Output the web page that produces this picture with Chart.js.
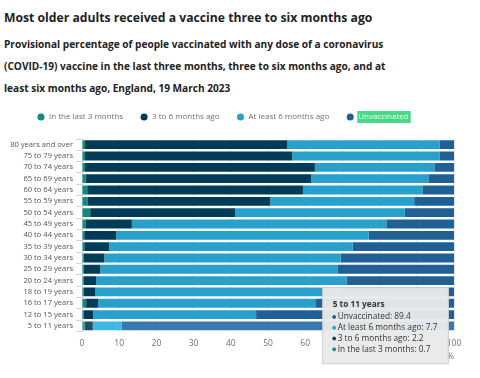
<!DOCTYPE html>
<html>
<head>
<meta charset="utf-8">
<script src="https://cdn.jsdelivr.net/npm/chart.js@4.4.1/dist/chart.umd.min.js"></script>
<style>
    body { margin: 0; width: 480px; height: 378px; overflow: hidden; background: #fff; font-family: "Open Sans", sans-serif; }
    #title { position: absolute; left: 4px; top: 8px; margin: 0; font-size: 12.2px; line-height: 20px; font-weight: bold; color: #222; }
    #subtitle { position: absolute; left: 4px; top: 33px; width: 470px; margin: 0; font-size: 10.1px; line-height: 22px; font-weight: bold; color: #222; }
    #chartBox { position: absolute; left: 0; top: 96px; width: 480px; height: 282px; }
</style>
</head>
<body>
<h1 id="title">Most older adults received a vaccine three to six months ago</h1>
<h2 id="subtitle">Provisional percentage of people vaccinated with any dose of a coronavirus<br>(COVID-19) vaccine in the last three months, three to six months ago, and at<br>least six months ago, England, 19 March 2023</h2>
<div id="chartBox"><canvas id="chart"></canvas></div>
<script>
// Age groups, top to bottom
const categories = [
    '80 years and over', '75 to 79 years', '70 to 74 years', '65 to 69 years',
    '60 to 64 years', '55 to 59 years', '50 to 54 years', '45 to 49 years',
    '40 to 44 years', '35 to 39 years', '30 to 34 years', '25 to 29 years',
    '20 to 24 years', '18 to 19 years', '16 to 17 years', '12 to 15 years',
    '5 to 11 years'
];

// Percentages per age group
const lastThreeMonths = [0.8, 0.8, 0.8, 1.0, 1.4, 1.6, 2.2, 0.9, 0.6, 0.6, 0.4, 0.4, 0.4, 0.5, 1.1, 0.5, 0.7];
const threeToSixMonths = [54.4, 55.7, 61.8, 60.6, 58.0, 49.0, 39.0, 12.5, 8.6, 6.7, 5.6, 4.5, 3.4, 3.0, 3.2, 2.5, 2.2];
const atLeastSixMonths = [41.0, 39.7, 32.1, 31.5, 32.1, 38.7, 45.6, 68.4, 67.9, 65.5, 63.5, 63.9, 67.3, 66.5, 58.4, 43.8, 7.7];
const unvaccinated = [3.8, 3.8, 5.3, 6.9, 8.5, 10.7, 13.2, 18.2, 22.9, 27.2, 30.5, 31.2, 28.9, 30.0, 37.3, 53.2, 89.4];

const xTicks = [0, 10, 20, 30, 40, 50, 60, 70, 80, 90, 100];

const FONT = '"Open Sans", sans-serif';
const LEGEND_SIZE = 8;

// Tooltip sits next to the hovered bar
Chart.Tooltip.positioners.hoverBox = function () {
    const c = this.chart;
    return {
        x: c.scales.x.getPixelForValue(64.7),
        y: c.chartArea.bottom - 44,
        xAlign: 'left',
        yAlign: 'top'
    };
};

// Legend spacing plus the green highlight behind "Unvaccinated"
const legendTweaks = {
    id: 'legendTweaks',
    beforeInit(chart) {
        const fit = chart.legend.fit;
        chart.legend.fit = function () {
            fit.bind(chart.legend)();
            this.height += 8;
        };
    },
    afterLayout(chart) {
        chart.legend.left = 20;
    },
    afterDraw(chart) {
        const box = chart.legend.legendHitBoxes[3];
        if (!box) return;
        const ctx = chart.ctx;
        const textX = box.left + LEGEND_SIZE * 1.5;
        ctx.save();
        ctx.font = LEGEND_SIZE + 'px ' + FONT;
        const tw = ctx.measureText('Unvaccinated').width;
        ctx.fillStyle = '#47d987';
        ctx.fillRect(textX - 1, box.top - 2, tw + 3, box.height + 4);
        ctx.fillStyle = '#f2fff6';
        ctx.textBaseline = 'middle';
        ctx.fillText('Unvaccinated', textX, box.top + box.height / 2);
        ctx.restore();
    }
};

const chart = new Chart(document.getElementById('chart'), {
    type: 'bar',
    data: {
        labels: categories,
        datasets: [
            { label: 'In the last 3 months', data: lastThreeMonths, backgroundColor: '#118c7b', hoverBackgroundColor: '#2c9c8c' },
            { label: '3 to 6 months ago', data: threeToSixMonths, backgroundColor: '#003c57', hoverBackgroundColor: '#1e4f68' },
            { label: 'At least 6 months ago', data: atLeastSixMonths, backgroundColor: '#27a0cc', hoverBackgroundColor: '#3fb8e5' },
            { label: 'Unvaccinated', data: unvaccinated, backgroundColor: '#206095', hoverBackgroundColor: '#3a78b0' }
        ]
    },
    options: {
        indexAxis: 'y',
        responsive: true,
        maintainAspectRatio: false,
        animation: false,
        events: [],
        datasets: { bar: { categoryPercentage: 1, barPercentage: 0.78, borderWidth: 0 } },
        layout: { padding: { left: 0, right: 26, top: 0, bottom: 16 } },
        scales: {
            x: {
                stacked: true,
                min: 0,
                max: 100,
                afterBuildTicks(scale) { scale.ticks = xTicks.map(v => ({ value: v })); },
                grid: { color: '#e6e6e6', drawTicks: false },
                border: { display: false },
                ticks: { color: '#707070', font: { family: FONT, size: 8.5 }, padding: 7 },
                title: { display: true, text: '%', align: 'end', color: '#707070', font: { family: FONT, size: 8.5 }, padding: { top: -4, bottom: 0 } }
            },
            y: {
                stacked: true,
                afterFit(scale) { scale.width = 82; },
                grid: { display: true, drawOnChartArea: false, offset: true, tickLength: 6, color: '#ccd6eb' },
                border: { display: true, color: '#ccd6eb' },
                ticks: { color: '#555', font: { family: FONT, size: 7.6 }, padding: 3, autoSkip: false }
            }
        },
        plugins: {
            legend: {
                position: 'top',
                align: 'start',
                labels: {
                    usePointStyle: true,
                    pointStyle: 'circle',
                    boxHeight: 5,
                    padding: 17,
                    color: '#707070',
                    font: { family: FONT, size: LEGEND_SIZE }
                }
            },
            tooltip: {
                enabled: true,
                position: 'hoverBox',
                mode: 'index',
                backgroundColor: 'rgba(233,233,233,0.96)',
                borderColor: '#cfcfcf',
                borderWidth: 1,
                cornerRadius: 0,
                caretSize: 0,
                caretPadding: 0,
                padding: { top: 12, left: 10, right: 11, bottom: 9 },
                titleColor: '#333',
                bodyColor: '#333',
                titleFont: { family: FONT, size: 8.3, weight: 'bold', lineHeight: 1.2 },
                bodyFont: { family: FONT, size: 8.3, lineHeight: 1.3 },
                titleMarginBottom: 2,
                bodySpacing: 0,
                usePointStyle: true,
                boxWidth: 3,
                boxHeight: 3,
                itemSort: (a, b) => b.datasetIndex - a.datasetIndex,
                callbacks: {
                    labelColor: ctx => ({ backgroundColor: ctx.dataset.backgroundColor, borderColor: ctx.dataset.backgroundColor }),
                    labelPointStyle: () => ({ pointStyle: 'circle', rotation: 0 })
                }
            }
        }
    },
    plugins: [legendTweaks]
});

// Show the hover state for the bottom age group
const hovered = categories.length - 1;
const active = chart.data.datasets.map((d, i) => ({ datasetIndex: i, index: hovered }));
chart.setActiveElements(active);
chart.tooltip.setActiveElements(active, { x: 0, y: 0 });
chart.update();
</script>
</body>
</html>
